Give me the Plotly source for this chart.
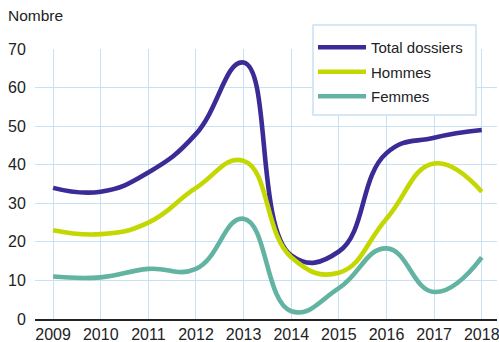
import plotly.graph_objects as go

# Yearly counts
years = [2009, 2010, 2011, 2012, 2013, 2014, 2015, 2016, 2017, 2018]
total_dossiers = [34, 33, 38, 48, 66.5, 16.5, 17.5, 43, 47, 49]
hommes = [23, 22, 25, 34, 41, 16, 12, 26, 40.3, 33]
femmes = [11, 10.8, 13, 13, 26, 2, 8, 18.3, 7, 16]

series = [
    ("Total dossiers", total_dossiers, "#3b2b96"),
    ("Hommes", hommes, "#c3d700"),
    ("Femmes", femmes, "#62b3a1"),
]

FONT = "Liberation Sans, Arial, sans-serif"
GRID = "#c8e1f3"

fig = go.Figure()
for name, values, color in series:
    fig.add_trace(go.Scatter(
        x=years, y=values, name=name, mode="lines", legendgroup=name,
        line=dict(color=color, width=4.6, shape="spline", smoothing=1.3),
    ))

# plot area: x 35..497 px, y 49..319 px
PW, PH = 462, 270


def px_x(px):
    return (px - 35) / PW


def px_y(py):
    return 1 + (49 - py) / PH


fig.update_layout(
    width=499, height=342,
    margin=dict(l=35, r=2, t=49, b=23),
    paper_bgcolor="white", plot_bgcolor="white",
    font=dict(family=FONT, size=16, color="#222222"),
    showlegend=True,
    legend=dict(
        x=px_x(313), y=px_y(31), xanchor="left", yanchor="top",
        bgcolor="rgba(0,0,0,0)", borderwidth=0,
        font=dict(family=FONT, size=15, color="#222222"),
        itemwidth=48, tracegroupgap=2,
    ),
    xaxis=dict(
        range=[2008.62, 2018.32], tickvals=years, ticktext=[str(y) for y in years],
        showgrid=True, gridcolor=GRID, gridwidth=1,
        showline=True, linecolor="#222222", linewidth=1.5,
        ticks="", ticklabeloverflow="allow",
        zeroline=False, automargin=False,
    ),
    yaxis=dict(
        range=[0, 70], tickvals=[0, 10, 20, 30, 40, 50, 60, 70],
        showgrid=True, gridcolor=GRID, gridwidth=1,
        showline=False, zeroline=False,
        ticks="outside", ticklen=5, tickcolor="rgba(0,0,0,0)",
        automargin=False,
    ),
    shapes=[dict(
        type="rect", xref="paper", yref="paper", layer="above",
        x0=px_x(313), x1=px_x(476), y0=px_y(115), y1=px_y(25),
        fillcolor="white", line=dict(color=GRID, width=1.5),
    )],
    annotations=[dict(
        text="Nombre", xref="paper", yref="paper",
        x=px_x(6), y=px_y(5),
        xanchor="left", yanchor="top", showarrow=False,
        font=dict(family=FONT, size=15.5, color="#222222"),
    )],
)

fig.write_html("out.html")
